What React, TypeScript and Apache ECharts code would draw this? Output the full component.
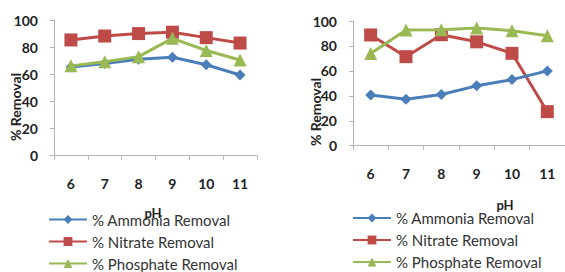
import React, { useEffect, useRef } from "react";
import * as echarts from "echarts";

const phLabels = ["6", "7", "8", "9", "10", "11"];
const yTicks = { min: 0, max: 100, interval: 20 };
const seriesNames = ["% Ammonia Removal", "% Nitrate Removal", "% Phosphate Removal"];

const leftAmmonia = [65.3, 68, 71, 72.5, 67, 59.5];
const leftNitrate = [85.3, 88.2, 90, 91, 87, 83];
const leftPhosphate = [66.2, 69.3, 73, 86.5, 77.5, 70.5];

const rightAmmonia = [40.7, 37.2, 41, 48, 53, 60];
const rightNitrate = [88.8, 71.4, 89, 83.3, 74.1, 27.3];
const rightPhosphate = [74, 92.8, 93, 94.4, 92.2, 88.2];

const colors = ["#4A7EBB", "#BE4B48", "#98B954"];
const symbols = ["diamond", "rect", "triangle"];
const symbolSizes = [11, 13, 13];

const FONT = "Lato, 'Open Sans', sans-serif";

export default function App() {
  const ref = useRef<HTMLDivElement>(null);
  useEffect(() => {
    if (!ref.current) return;
    const chart = echarts.init(ref.current, null, { renderer: "svg" });

    const xAxisCommon = {
      type: "category",
      data: phLabels,
      boundaryGap: true,
      axisLine: { lineStyle: { color: "#b4b4b4", width: 1 } },
      axisTick: { show: true, length: 4, lineStyle: { color: "#b4b4b4" } },
      axisLabel: { margin: 21, fontSize: 14, fontWeight: "bold", color: "#222", fontFamily: FONT },
      splitLine: { show: false },
    };
    const yAxisCommon = {
      type: "value",
      min: yTicks.min,
      max: yTicks.max,
      interval: yTicks.interval,
      axisLine: { show: true, lineStyle: { color: "#b4b4b4", width: 1 } },
      axisTick: { show: true, length: 4, lineStyle: { color: "#b4b4b4" } },
      axisLabel: { margin: 16, fontSize: 14, fontWeight: "bold", color: "#222", fontFamily: FONT },
      splitLine: { show: false },
    };

    const leftData = [leftAmmonia, leftNitrate, leftPhosphate];
    const rightData = [rightAmmonia, rightNitrate, rightPhosphate];
    const series: any[] = [];
    [leftData, rightData].forEach((set, gi) => {
      set.forEach((d, i) => {
        series.push({
          name: seriesNames[i],
          type: "line",
          xAxisIndex: gi,
          yAxisIndex: gi,
          data: d,
          symbol: symbols[i],
          symbolSize: symbolSizes[i],
          lineStyle: { color: colors[i], width: 3 },
          itemStyle: { color: colors[i] },
          z: i === 0 ? 3 : i === 1 ? 2 : 4,
        });
      });
    });

    const legendCommon = {
      orient: "vertical",
      padding: 0,
      height: 80,
      itemWidth: 38,
      itemHeight: 11,
      data: seriesNames,
      lineStyle: { width: 2 },
      textStyle: { fontSize: 15, color: "#333", fontFamily: FONT },
      selectedMode: false,
    };

    const labelStyle = { fontSize: 14, fontWeight: "bold", fill: "#222", fontFamily: FONT };

    chart.setOption({
      animation: false,
      backgroundColor: "#ffffff",
      grid: [
        { left: 54, top: 20, width: 203, height: 135.7 },
        { left: 353, top: 21, width: 220, height: 124.7 },
      ],
      xAxis: [
        { ...xAxisCommon, gridIndex: 0 },
        { ...xAxisCommon, gridIndex: 1 },
      ],
      yAxis: [
        { ...yAxisCommon, gridIndex: 0 },
        { ...yAxisCommon, gridIndex: 1 },
      ],
      legend: [
        { ...legendCommon, left: 48, top: 212, itemGap: 7 },
        { ...legendCommon, left: 352, top: 210.5, itemGap: 7 },
      ],
      graphic: [
        { type: "text", x: 15, y: 107, rotation: Math.PI / 2, style: { ...labelStyle, text: "% Removal", align: "center", verticalAlign: "middle" } },
        { type: "text", x: 315, y: 112, rotation: Math.PI / 2, style: { ...labelStyle, text: "% Removal", align: "center", verticalAlign: "middle" } },
        { type: "text", x: 153, y: 213, style: { ...labelStyle, fontSize: 13, text: "pH", align: "center", verticalAlign: "middle" } },
        { type: "text", x: 505, y: 205, style: { ...labelStyle, fontSize: 13, text: "pH", align: "center", verticalAlign: "middle" } },
      ],
      series,
    });
    return () => chart.dispose();
  }, []);
  return <div ref={ref} style={{ position: "absolute", left: 0, top: 0, width: 565, height: 272 }} />;
}
